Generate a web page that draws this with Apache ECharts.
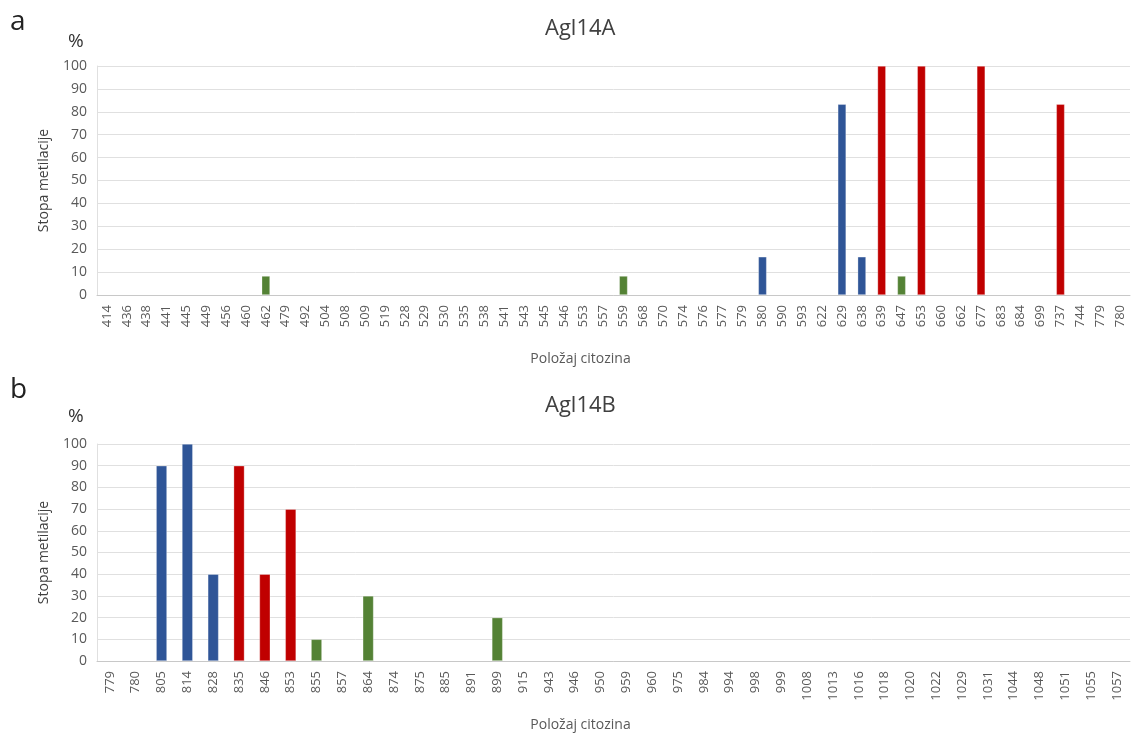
<!DOCTYPE html>
<html><head><meta charset="utf-8">
<script src="https://cdn.jsdelivr.net/npm/echarts@6/dist/echarts.min.js"></script>
<style>html,body{margin:0;padding:0;background:#fff}#c{width:1132px;height:733px}</style>
</head><body><div id="c"></div>
<script>
// Agl14A
const catsA = ['414','436','438','441','445','449','456','460','462','479','492','504','508','509','519','528','529','530','535','538','541','543','545','546','553','557','559','568','570','574','576','577','579','580','590','593','622','629','638','639','647','653','660','662','677','683','684','699','737','744','779','780'];
const blueA = {'580':16.7,'629':83.3,'638':16.7};
const redA = {'639':100,'653':100,'677':100,'737':83.3};
const greenA = {'462':8.3,'559':8.3,'647':8.3};
// Agl14B
const catsB = ['779','780','805','814','828','835','846','853','855','857','864','874','875','885','891','899','915','943','946','950','959','960','975','984','994','998','999','1008','1013','1016','1018','1020','1022','1029','1031','1044','1048','1051','1055','1057'];
const blueB = {'805':90,'814':100,'828':40};
const redB = {'835':90,'846':40,'853':70};
const greenB = {'855':10,'864':30,'899':20};
const yTicks = [0,10,20,30,40,50,60,70,80,90,100];

const BLUE='#2F5597', RED='#C00000', GREEN='#548235';
const FONT='"Open Sans", sans-serif';
function vals(cats, m){ return cats.map(c => (c in m) ? m[c] : null); }

function xAx(idx, cats){
  return {type:'category', gridIndex:idx, data:cats,
    axisLine:{show:true,lineStyle:{color:'#c8c8c8',width:1}},
    axisTick:{show:false},
    axisLabel:{rotate:90, color:'#595959', fontSize:13, fontFamily:FONT, margin:10, interval:0},
    name:'Položaj citozina', nameLocation:'middle', nameGap:57,
    nameTextStyle:{color:'#595959', fontSize:14, fontFamily:FONT, padding:[0,66,0,0]}};
}
function yAx(idx){
  return {type:'value', gridIndex:idx, min:0, max:100, interval:10,
    axisLine:{show:true,lineStyle:{color:'#e0e0e0'}},
    axisTick:{show:false},
    splitLine:{lineStyle:{color:'#e0e0e0',width:1}},
    axisLabel:{color:'#595959', fontSize:14, fontFamily:FONT, margin:10,
      formatter: v => yTicks.includes(v) ? String(v) : ''},
    name:'Stopa metilacije', nameLocation:'middle', nameRotate:90, nameGap:46,
    nameTextStyle:{color:'#404040', fontSize:14, fontFamily:FONT}};
}
function bar(x, data, color, stack){
  return {type:'bar', xAxisIndex:x, yAxisIndex:x, stack:stack, data:data, barWidth:'42%',
    itemStyle:{color:color, borderColor:'rgba(255,255,255,0.5)', borderWidth:0.6}, silent:true};
}

const chart = echarts.init(document.getElementById('c'), null, {renderer:'canvas'});
chart.setOption({
  animation:false,
  backgroundColor:'#fff',
  title:[
    {text:'Agl14A', left:540, top:13, textStyle:{fontSize:22, fontWeight:'normal', color:'#404040', fontFamily:FONT}},
    {text:'Agl14B', left:540, top:390, textStyle:{fontSize:22, fontWeight:'normal', color:'#404040', fontFamily:FONT}}
  ],
  graphic:[
    {type:'text', left:10, top:8, style:{text:'a', font:'28px "Open Sans", sans-serif', fill:'#222'}},
    {type:'text', left:10, top:376, style:{text:'b', font:'28px "Open Sans", sans-serif', fill:'#222'}},
    {type:'text', left:68, top:32, style:{text:'%', font:'19px "Open Sans", sans-serif', fill:'#333'}},
    {type:'text', left:68, top:407, style:{text:'%', font:'19px "Open Sans", sans-serif', fill:'#333'}}
  ],
  grid:[
    {left:97, top:66, width:1033, height:229},
    {left:97, top:444, width:1033, height:221}
  ],
  xAxis:[xAx(0,catsA), xAx(1,catsB)],
  yAxis:[yAx(0), yAx(1)],
  series:[
    bar(0, vals(catsA,blueA), BLUE, 'a'),
    bar(0, vals(catsA,redA), RED, 'a'),
    bar(0, vals(catsA,greenA), GREEN, 'a'),
    bar(1, vals(catsB,blueB), BLUE, 'b'),
    bar(1, vals(catsB,redB), RED, 'b'),
    bar(1, vals(catsB,greenB), GREEN, 'b')
  ]
});
</script></body></html>
